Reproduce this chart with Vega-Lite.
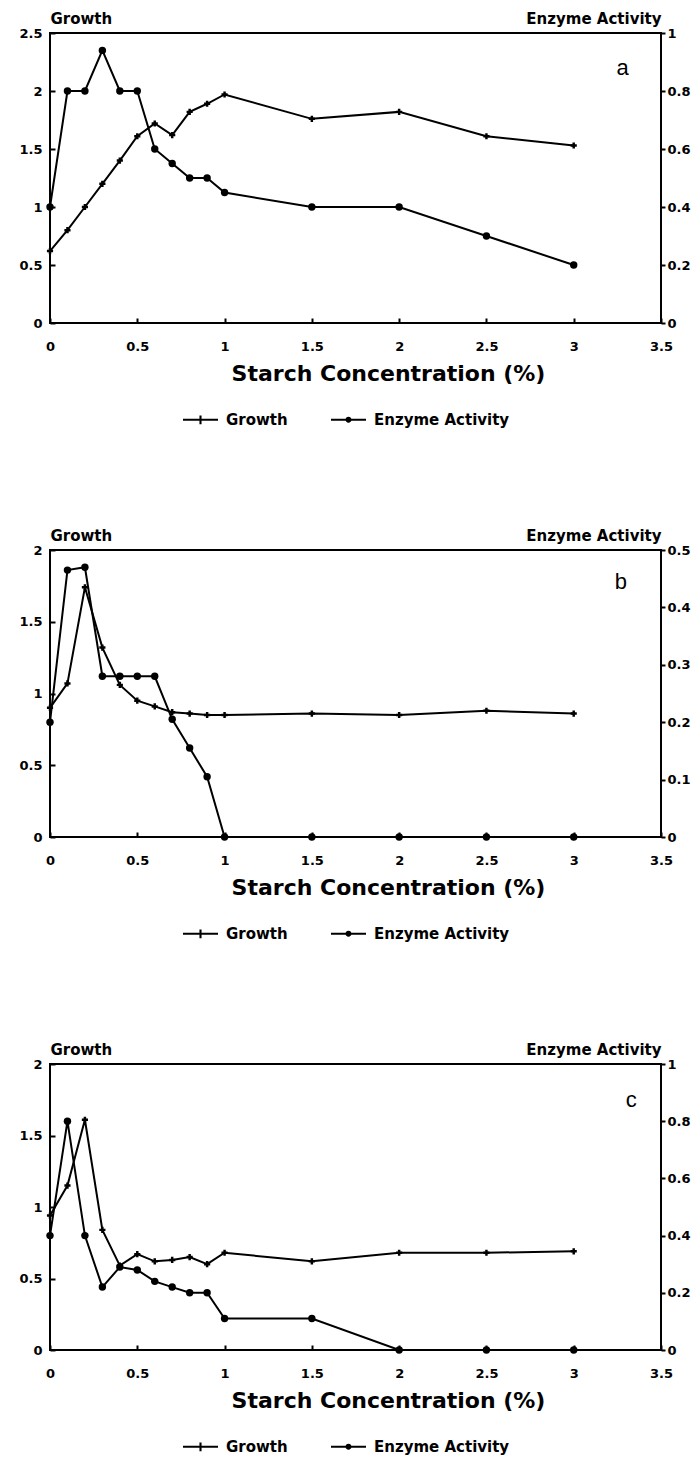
{
  "$schema": "https://vega.github.io/schema/vega-lite/v6.json",
  "padding": {"left": 17, "top": 10, "right": 0, "bottom": 0},
  "background": "white",
  "spacing": 98,
  "config": {
    "font": "DejaVu Sans",
    "view": {"stroke": "black", "strokeWidth": 2},
    "axis": {"grid": false, "domain": false, "labelFont": "DejaVu Sans", "labelFontWeight": "bold", "labelFontSize": 13, "labelColor": "black", "tickColor": "black", "tickWidth": 2, "titleColor": "black", "titleFontWeight": "bold", "titleFont": "DejaVu Sans", "labelFlush": false},
    "legend": {"labelFont": "DejaVu Sans"}
  },
  "datasets": {
    "d": [
      {"p":"a","s":"Growth","x":0,"v":0.62},{"p":"a","s":"Growth","x":0.1,"v":0.8},{"p":"a","s":"Growth","x":0.2,"v":1.0},{"p":"a","s":"Growth","x":0.3,"v":1.2},{"p":"a","s":"Growth","x":0.4,"v":1.4},{"p":"a","s":"Growth","x":0.5,"v":1.61},{"p":"a","s":"Growth","x":0.6,"v":1.72},{"p":"a","s":"Growth","x":0.7,"v":1.62},{"p":"a","s":"Growth","x":0.8,"v":1.82},{"p":"a","s":"Growth","x":0.9,"v":1.89},{"p":"a","s":"Growth","x":1.0,"v":1.97},{"p":"a","s":"Growth","x":1.5,"v":1.76},{"p":"a","s":"Growth","x":2.0,"v":1.82},{"p":"a","s":"Growth","x":2.5,"v":1.61},{"p":"a","s":"Growth","x":3.0,"v":1.53},
      {"p":"a","s":"Enzyme Activity","x":0,"v":0.4},{"p":"a","s":"Enzyme Activity","x":0.1,"v":0.8},{"p":"a","s":"Enzyme Activity","x":0.2,"v":0.8},{"p":"a","s":"Enzyme Activity","x":0.3,"v":0.94},{"p":"a","s":"Enzyme Activity","x":0.4,"v":0.8},{"p":"a","s":"Enzyme Activity","x":0.5,"v":0.8},{"p":"a","s":"Enzyme Activity","x":0.6,"v":0.6},{"p":"a","s":"Enzyme Activity","x":0.7,"v":0.55},{"p":"a","s":"Enzyme Activity","x":0.8,"v":0.5},{"p":"a","s":"Enzyme Activity","x":0.9,"v":0.5},{"p":"a","s":"Enzyme Activity","x":1.0,"v":0.45},{"p":"a","s":"Enzyme Activity","x":1.5,"v":0.4},{"p":"a","s":"Enzyme Activity","x":2.0,"v":0.4},{"p":"a","s":"Enzyme Activity","x":2.5,"v":0.3},{"p":"a","s":"Enzyme Activity","x":3.0,"v":0.2},
      {"p":"b","s":"Growth","x":0,"v":0.9},{"p":"b","s":"Growth","x":0.1,"v":1.07},{"p":"b","s":"Growth","x":0.2,"v":1.74},{"p":"b","s":"Growth","x":0.3,"v":1.32},{"p":"b","s":"Growth","x":0.4,"v":1.06},{"p":"b","s":"Growth","x":0.5,"v":0.95},{"p":"b","s":"Growth","x":0.6,"v":0.91},{"p":"b","s":"Growth","x":0.7,"v":0.87},{"p":"b","s":"Growth","x":0.8,"v":0.86},{"p":"b","s":"Growth","x":0.9,"v":0.85},{"p":"b","s":"Growth","x":1.0,"v":0.85},{"p":"b","s":"Growth","x":1.5,"v":0.86},{"p":"b","s":"Growth","x":2.0,"v":0.85},{"p":"b","s":"Growth","x":2.5,"v":0.88},{"p":"b","s":"Growth","x":3.0,"v":0.86},
      {"p":"b","s":"Enzyme Activity","x":0,"v":0.2},{"p":"b","s":"Enzyme Activity","x":0.1,"v":0.465},{"p":"b","s":"Enzyme Activity","x":0.2,"v":0.47},{"p":"b","s":"Enzyme Activity","x":0.3,"v":0.28},{"p":"b","s":"Enzyme Activity","x":0.4,"v":0.28},{"p":"b","s":"Enzyme Activity","x":0.5,"v":0.28},{"p":"b","s":"Enzyme Activity","x":0.6,"v":0.28},{"p":"b","s":"Enzyme Activity","x":0.7,"v":0.205},{"p":"b","s":"Enzyme Activity","x":0.8,"v":0.155},{"p":"b","s":"Enzyme Activity","x":0.9,"v":0.105},{"p":"b","s":"Enzyme Activity","x":1.0,"v":0},{"p":"b","s":"Enzyme Activity","x":1.5,"v":0},{"p":"b","s":"Enzyme Activity","x":2.0,"v":0},{"p":"b","s":"Enzyme Activity","x":2.5,"v":0},{"p":"b","s":"Enzyme Activity","x":3.0,"v":0},
      {"p":"c","s":"Growth","x":0,"v":0.94},{"p":"c","s":"Growth","x":0.1,"v":1.15},{"p":"c","s":"Growth","x":0.2,"v":1.61},{"p":"c","s":"Growth","x":0.3,"v":0.84},{"p":"c","s":"Growth","x":0.4,"v":0.59},{"p":"c","s":"Growth","x":0.5,"v":0.67},{"p":"c","s":"Growth","x":0.6,"v":0.62},{"p":"c","s":"Growth","x":0.7,"v":0.63},{"p":"c","s":"Growth","x":0.8,"v":0.65},{"p":"c","s":"Growth","x":0.9,"v":0.6},{"p":"c","s":"Growth","x":1.0,"v":0.68},{"p":"c","s":"Growth","x":1.5,"v":0.62},{"p":"c","s":"Growth","x":2.0,"v":0.68},{"p":"c","s":"Growth","x":2.5,"v":0.68},{"p":"c","s":"Growth","x":3.0,"v":0.69},
      {"p":"c","s":"Enzyme Activity","x":0,"v":0.4},{"p":"c","s":"Enzyme Activity","x":0.1,"v":0.8},{"p":"c","s":"Enzyme Activity","x":0.2,"v":0.4},{"p":"c","s":"Enzyme Activity","x":0.3,"v":0.22},{"p":"c","s":"Enzyme Activity","x":0.4,"v":0.29},{"p":"c","s":"Enzyme Activity","x":0.5,"v":0.28},{"p":"c","s":"Enzyme Activity","x":0.6,"v":0.24},{"p":"c","s":"Enzyme Activity","x":0.7,"v":0.22},{"p":"c","s":"Enzyme Activity","x":0.8,"v":0.2},{"p":"c","s":"Enzyme Activity","x":0.9,"v":0.2},{"p":"c","s":"Enzyme Activity","x":1.0,"v":0.11},{"p":"c","s":"Enzyme Activity","x":1.5,"v":0.11},{"p":"c","s":"Enzyme Activity","x":2.0,"v":0},{"p":"c","s":"Enzyme Activity","x":2.5,"v":0},{"p":"c","s":"Enzyme Activity","x":3.0,"v":0},
      {"p":"a","s":"Growth","t":"a","x":3.28,"v":2.2},{"p":"b","s":"Growth","t":"b","x":3.27,"v":1.78},{"p":"c","s":"Growth","t":"c","x":3.33,"v":1.75}
    ]
  },
  "vconcat": [
    {
      "width": 611, "height": 290,
      "data": {"name": "d"},
      "transform": [{"filter": "datum.p === 'a'"}],
      "encoding": {"x": {"field": "x", "type": "quantitative", "scale": {"domain": [0, 3.5], "nice": false, "zero": false}, "axis": {"values": [0,0.5,1,1.5,2,2.5,3,3.5], "format": "~g", "title": "Starch Concentration (%)", "titleFontSize": 22, "titlePadding": 10, "titleX": 338, "labelPadding": 22, "tickSize": -5}}},
      "layer": [
        {"transform": [{"filter": "datum.s === 'Growth'"}],
         "encoding": {"y": {"field": "v", "type": "quantitative", "scale": {"domain": [0, 2.5], "nice": false}, "axis": {"orient": "left", "values": [0,0.5,1,1.5,2,2.5], "format": "~g", "tickSize": -5, "labelPadding": 13, "title": "Growth", "titleAngle": 0, "titleX": 0, "titleY": -10, "titleAlign": "left", "titleBaseline": "alphabetic", "titleFontSize": 15}}},
         "layer": [
           {"transform": [{"filter": "!isValid(datum.t)"}], "mark": {"type": "line", "color": "black", "strokeWidth": 2}, "encoding": {}},
           {"transform": [{"filter": "!isValid(datum.t)"}], "mark": {"type": "point", "shape": "cross", "filled": true, "opacity": 1, "color": "black", "size": 38}, "encoding": {}},
           {"transform": [{"filter": "false"}], "mark": {"type": "point", "filled": true, "color": "black", "opacity": 1},
            "encoding": {"shape": {"field": "s", "type": "nominal", "scale": {"domain": ["Growth", "Enzyme Activity"], "range": ["M-1,-0.06H1V0.06H-1Z M-0.06,-0.25H0.06V0.25H-0.06Z", "M-1,-0.06H1V0.06H-1Z M-0.17,0A0.17,0.17,0,1,1,0.17,0A0.17,0.17,0,1,1,-0.17,0Z"]},
              "legend": {"orient": "none", "legendX": 132, "legendY": 368, "direction": "horizontal", "title": null, "labelFontSize": 15, "labelFontWeight": "bold", "labelColor": "black", "symbolSize": 1225, "symbolFillColor": "black", "symbolOpacity": 1, "columnPadding": 40, "labelOffset": 7}}}},
           {"transform": [{"filter": "isValid(datum.t)"}], "mark": {"type": "text", "font": "Liberation Sans", "fontSize": 22, "color": "black"}, "encoding": {"text": {"field": "t", "type": "nominal"}}}
         ]},
        {"transform": [{"filter": "datum.s === 'Enzyme Activity'"}],
         "encoding": {"y": {"field": "v", "type": "quantitative", "scale": {"domain": [0, 1], "nice": false}, "axis": {"orient": "right", "values": [0,0.2,0.4,0.6,0.8,1], "format": "~g", "tickSize": 4, "labelPadding": 2, "title": "Enzyme Activity", "titleAngle": 0, "titleX": 0, "titleY": -10, "titleAlign": "right", "titleBaseline": "alphabetic", "titleFontSize": 15}}},
         "layer": [
           {"mark": {"type": "line", "color": "black", "strokeWidth": 2}, "encoding": {}},
           {"mark": {"type": "point", "shape": "circle", "filled": true, "opacity": 1, "color": "black", "size": 55}, "encoding": {}}
         ]}
      ],
      "resolve": {"scale": {"y": "independent"}}
    },
    {
      "width": 611, "height": 287,
      "data": {"name": "d"},
      "transform": [{"filter": "datum.p === 'b'"}],
      "encoding": {"x": {"field": "x", "type": "quantitative", "scale": {"domain": [0, 3.5], "nice": false, "zero": false}, "axis": {"values": [0,0.5,1,1.5,2,2.5,3,3.5], "format": "~g", "title": "Starch Concentration (%)", "titleFontSize": 22, "titlePadding": 10, "titleX": 338, "labelPadding": 22, "tickSize": -5}}},
      "layer": [
        {"transform": [{"filter": "datum.s === 'Growth'"}],
         "encoding": {"y": {"field": "v", "type": "quantitative", "scale": {"domain": [0, 2], "nice": false}, "axis": {"orient": "left", "values": [0,0.5,1,1.5,2], "format": "~g", "tickSize": -5, "labelPadding": 13, "title": "Growth", "titleAngle": 0, "titleX": 0, "titleY": -10, "titleAlign": "left", "titleBaseline": "alphabetic", "titleFontSize": 15}}},
         "layer": [
           {"transform": [{"filter": "!isValid(datum.t)"}], "mark": {"type": "line", "color": "black", "strokeWidth": 2}, "encoding": {}},
           {"transform": [{"filter": "!isValid(datum.t)"}], "mark": {"type": "point", "shape": "cross", "filled": true, "opacity": 1, "color": "black", "size": 38}, "encoding": {}},
           {"transform": [{"filter": "false"}], "mark": {"type": "point", "filled": true, "color": "black", "opacity": 1},
            "encoding": {"shape": {"field": "s", "type": "nominal", "scale": {"domain": ["Growth", "Enzyme Activity"], "range": ["M-1,-0.06H1V0.06H-1Z M-0.06,-0.25H0.06V0.25H-0.06Z", "M-1,-0.06H1V0.06H-1Z M-0.17,0A0.17,0.17,0,1,1,0.17,0A0.17,0.17,0,1,1,-0.17,0Z"]},
              "legend": {"orient": "none", "legendX": 132, "legendY": 365, "direction": "horizontal", "title": null, "labelFontSize": 15, "labelFontWeight": "bold", "labelColor": "black", "symbolSize": 1225, "symbolFillColor": "black", "symbolOpacity": 1, "columnPadding": 40, "labelOffset": 7}}}},
           {"transform": [{"filter": "isValid(datum.t)"}], "mark": {"type": "text", "font": "Liberation Sans", "fontSize": 22, "color": "black"}, "encoding": {"text": {"field": "t", "type": "nominal"}}}
         ]},
        {"transform": [{"filter": "datum.s === 'Enzyme Activity'"}],
         "encoding": {"y": {"field": "v", "type": "quantitative", "scale": {"domain": [0, 0.5], "nice": false}, "axis": {"orient": "right", "values": [0,0.1,0.2,0.3,0.4,0.5], "format": "~g", "tickSize": 4, "labelPadding": 2, "title": "Enzyme Activity", "titleAngle": 0, "titleX": 0, "titleY": -10, "titleAlign": "right", "titleBaseline": "alphabetic", "titleFontSize": 15}}},
         "layer": [
           {"mark": {"type": "line", "color": "black", "strokeWidth": 2}, "encoding": {}},
           {"mark": {"type": "point", "shape": "circle", "filled": true, "opacity": 1, "color": "black", "size": 55}, "encoding": {}}
         ]}
      ],
      "resolve": {"scale": {"y": "independent"}}
    },
    {
      "width": 611, "height": 286,
      "data": {"name": "d"},
      "transform": [{"filter": "datum.p === 'c'"}],
      "encoding": {"x": {"field": "x", "type": "quantitative", "scale": {"domain": [0, 3.5], "nice": false, "zero": false}, "axis": {"values": [0,0.5,1,1.5,2,2.5,3,3.5], "format": "~g", "title": "Starch Concentration (%)", "titleFontSize": 22, "titlePadding": 10, "titleX": 338, "labelPadding": 22, "tickSize": -5}}},
      "layer": [
        {"transform": [{"filter": "datum.s === 'Growth'"}],
         "encoding": {"y": {"field": "v", "type": "quantitative", "scale": {"domain": [0, 2], "nice": false}, "axis": {"orient": "left", "values": [0,0.5,1,1.5,2], "format": "~g", "tickSize": -5, "labelPadding": 13, "title": "Growth", "titleAngle": 0, "titleX": 0, "titleY": -10, "titleAlign": "left", "titleBaseline": "alphabetic", "titleFontSize": 15}}},
         "layer": [
           {"transform": [{"filter": "!isValid(datum.t)"}], "mark": {"type": "line", "color": "black", "strokeWidth": 2}, "encoding": {}},
           {"transform": [{"filter": "!isValid(datum.t)"}], "mark": {"type": "point", "shape": "cross", "filled": true, "opacity": 1, "color": "black", "size": 38}, "encoding": {}},
           {"transform": [{"filter": "false"}], "mark": {"type": "point", "filled": true, "color": "black", "opacity": 1},
            "encoding": {"shape": {"field": "s", "type": "nominal", "scale": {"domain": ["Growth", "Enzyme Activity"], "range": ["M-1,-0.06H1V0.06H-1Z M-0.06,-0.25H0.06V0.25H-0.06Z", "M-1,-0.06H1V0.06H-1Z M-0.17,0A0.17,0.17,0,1,1,0.17,0A0.17,0.17,0,1,1,-0.17,0Z"]},
              "legend": {"orient": "none", "legendX": 132, "legendY": 364, "direction": "horizontal", "title": null, "labelFontSize": 15, "labelFontWeight": "bold", "labelColor": "black", "symbolSize": 1225, "symbolFillColor": "black", "symbolOpacity": 1, "columnPadding": 40, "labelOffset": 7}}}},
           {"transform": [{"filter": "isValid(datum.t)"}], "mark": {"type": "text", "font": "Liberation Sans", "fontSize": 22, "color": "black"}, "encoding": {"text": {"field": "t", "type": "nominal"}}}
         ]},
        {"transform": [{"filter": "datum.s === 'Enzyme Activity'"}],
         "encoding": {"y": {"field": "v", "type": "quantitative", "scale": {"domain": [0, 1], "nice": false}, "axis": {"orient": "right", "values": [0,0.2,0.4,0.6,0.8,1], "format": "~g", "tickSize": 4, "labelPadding": 2, "title": "Enzyme Activity", "titleAngle": 0, "titleX": 0, "titleY": -10, "titleAlign": "right", "titleBaseline": "alphabetic", "titleFontSize": 15}}},
         "layer": [
           {"mark": {"type": "line", "color": "black", "strokeWidth": 2}, "encoding": {}},
           {"mark": {"type": "point", "shape": "circle", "filled": true, "opacity": 1, "color": "black", "size": 55}, "encoding": {}}
         ]}
      ],
      "resolve": {"scale": {"y": "independent"}}
    }
  ],
  "resolve": {"scale": {"shape": "independent"}, "legend": {"shape": "independent"}}
}
